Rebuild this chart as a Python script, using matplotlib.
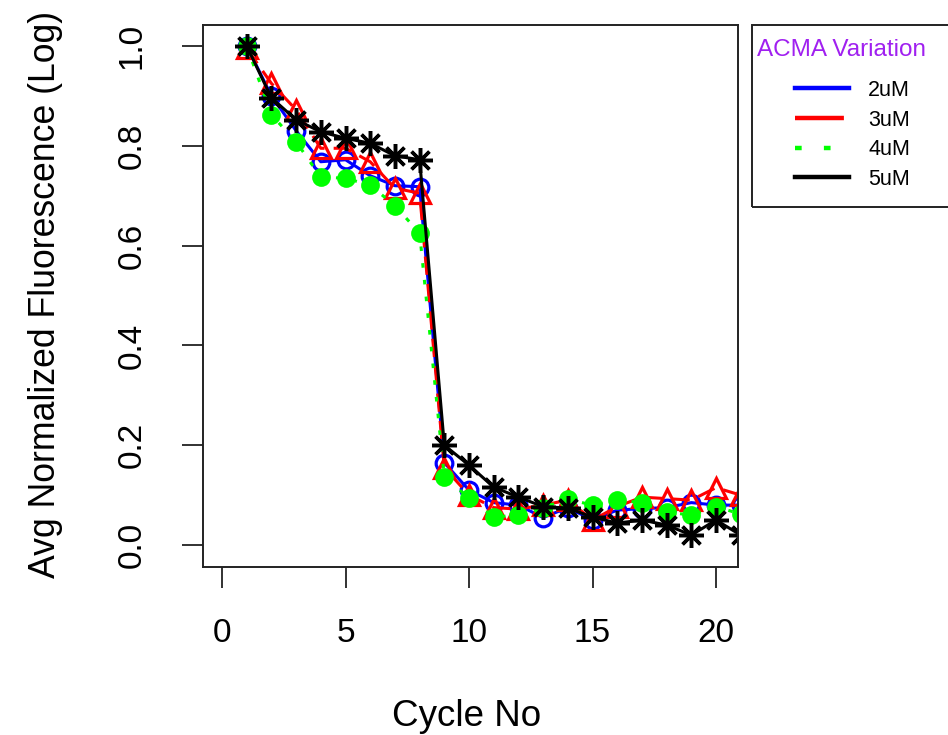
import matplotlib
matplotlib.use("Agg")
import matplotlib.pyplot as plt
from matplotlib.patches import Rectangle

plt.rcParams['font.family'] = ['Liberation Sans', 'DejaVu Sans']

# 數據 (Cycle 1..21)
cycles = list(range(1, 22))
c2uM = [1.00, 0.90, 0.83, 0.768, 0.772, 0.74, 0.72, 0.718, 0.165, 0.11, 0.085,
        0.08, 0.055, 0.075, 0.05, 0.07, 0.073, 0.075, 0.085, 0.08, 0.08]
c3uM = [0.995, 0.925, 0.872, 0.795, 0.795, 0.768, 0.715, 0.705, 0.155, 0.10, 0.075,
        0.072, 0.08, 0.09, 0.05, 0.077, 0.096, 0.093, 0.09, 0.115, 0.10]
c4uM = [1.00, 0.862, 0.808, 0.737, 0.735, 0.721, 0.68, 0.625, 0.137, 0.094, 0.056,
        0.06, 0.075, 0.092, 0.08, 0.09, 0.085, 0.066, 0.06, 0.077, 0.062]
c5uM = [1.00, 0.896, 0.852, 0.828, 0.815, 0.805, 0.78, 0.772, 0.20, 0.16, 0.116,
        0.096, 0.077, 0.074, 0.056, 0.044, 0.05, 0.04, 0.02, 0.05, 0.02]
labels = ['2uM', '3uM', '4uM', '5uM']
xticks = [0, 5, 10, 15, 20]
yticks = [0.0, 0.2, 0.4, 0.6, 0.8, 1.0]

fig = plt.figure(figsize=(9.48, 7.35), dpi=100)
ax = fig.add_axes([203 / 948, 168 / 735, 535 / 948, 542 / 735])

lw = 2.2
ax.plot(cycles, c2uM, color='#0000FF', lw=lw, marker='o', ms=12,
        mfc='none', mew=2.3, label=labels[0])
ax.plot(cycles, c3uM, color='#FF0000', lw=lw, dashes=(6, 3), marker='^', ms=15,
        mfc='none', mew=2.3, label=labels[1])
ax.plot(cycles, c4uM, color='#00FF00', lw=lw, dashes=(1.5, 4), marker='o', ms=13.5,
        mfc='#00FF00', mew=0, label=labels[2])
ax.plot(cycles, c5uM, color='black', lw=lw, marker=(8, 2, 0), ms=18,
        mew=2.5, label=labels[3])

ax.set_xlim(-0.77, 20.89)
ax.set_ylim(-0.044, 1.042)
ax.set_xticks(xticks)
ax.set_yticks(yticks)
ax.set_xticklabels([str(t) for t in xticks], fontsize=24)
ax.set_yticklabels(['%.1f' % t for t in yticks], fontsize=24, rotation=90, va='center')
ax.tick_params(axis='both', length=15, width=1.3, color='#222222')
ax.tick_params(axis='x', pad=22)
ax.tick_params(axis='y', pad=25)
for s in ax.spines.values():
    s.set_linewidth(1.4)
    s.set_color('#222222')

fig.text(467 / 948, 1 - 716 / 735, 'Cycle No', fontsize=26.5, ha='center', va='center')
fig.text(46 / 948, 1 - 294 / 735, 'Avg Normalized Fluorescence (Log)', fontsize=25.7,
         ha='center', va='center', rotation=90)

# 圖例（放在圖外右側）
styles = [(None, None), (11, 6), (1.5, 5), (None, None)]
handles = []
for l, d in zip(ax.get_lines(), styles):
    h = plt.Line2D([], [], color=l.get_color(), lw=3.2)
    if d[0] is not None:
        h.set_dashes(d)
    handles.append(h)
leg = fig.legend(handles, labels, loc='upper left',
                 bbox_to_anchor=(795 / 948, 1 - 80 / 735), frameon=False,
                 fontsize=15.5, handlelength=2.5, handletextpad=0.9,
                 labelspacing=0.4, borderpad=0, borderaxespad=0)
fig.text(757 / 948, 1 - 50 / 735, 'ACMA Variation', fontsize=17.5,
         color='#A020F0', ha='left', va='center')
fig.patches.append(Rectangle((752 / 948, 1 - 207 / 735), 0.3, 182 / 735,
                             transform=fig.transFigure, fill=False,
                             lw=1.4, edgecolor='#222222'))

fig.savefig('out.png', dpi=100)
